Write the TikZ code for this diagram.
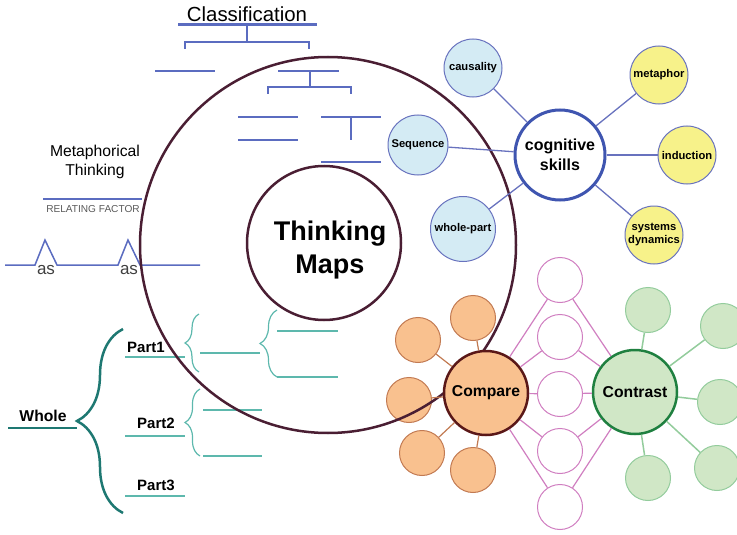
\documentclass[tikz,border=0pt]{standalone}
\usepackage{fontspec}
\setmainfont{Liberation Sans}
\usetikzlibrary{positioning}
\usetikzlibrary{decorations.pathreplacing}

\definecolor{treeblue}{HTML}{5B6CC0}
\definecolor{mapred}{HTML}{4A1E33}
\definecolor{skillblue}{HTML}{3F55B0}
\definecolor{skillline}{HTML}{6872BE}
\definecolor{paleblue}{HTML}{D4EBF4}
\definecolor{paleyellow}{HTML}{F7F28A}
\definecolor{orangefill}{HTML}{F9C18F}
\definecolor{orangeline}{HTML}{C27A52}
\definecolor{cmpborder}{HTML}{5A1818}
\definecolor{greenfill}{HTML}{D0E7C6}
\definecolor{greenline}{HTML}{93CC9C}
\definecolor{ctrborder}{HTML}{1F8040}
\definecolor{pinkline}{HTML}{D07EC0}
\definecolor{darkteal}{HTML}{1E7872}
\definecolor{lightteal}{HTML}{5DB8AD}

\tikzset{
  tree/.style={treeblue,line width=1.5pt},
  skill/.style={circle,draw=skillline,line width=1pt,inner sep=0pt,minimum size=58pt,align=center,font=\bfseries\fontsize{11.2}{13}\selectfont},
  cold/.style={skill,fill=paleblue},
  warm/.style={skill,fill=paleyellow},
  leaf/.style={circle,inner sep=0pt,minimum size=45pt,line width=1pt},
  same/.style={leaf,draw=orangeline,fill=orangefill},
  diff/.style={leaf,draw=greenline,fill=greenfill},
  bridge/.style={leaf,draw=pinkline},
  hub/.style={circle,inner sep=0pt,minimum size=84pt,line width=2.5pt,font=\bfseries\fontsize{15.7}{18}\selectfont},
  part/.style={inner sep=0pt,font=\bfseries\fontsize{15}{15}\selectfont},
  thin brace/.style={lightteal,line width=1.2pt,decorate,decoration={brace,amplitude=#1}}
}

\begin{document}
\begin{tikzpicture}[x=1pt,y=-1pt]
\useasboundingbox (0,0) rectangle (737,535);

\draw[treeblue,line width=3pt] (178,25) -- (317,25);
\coordinate (c) at (247,25);
\node[above=3pt of c,anchor=base,inner sep=0pt,font=\fontsize{20.4}{20.4}\selectfont] (class) {Classification};
\draw[tree] (c) -- (247,42);
\draw[tree] (185,49) -- (185,42) -- (309,42) -- (309,49);
\draw[tree] (155,71) -- (215,71);
\draw[tree] (278,71) -- (339,71);
\draw[tree] (310,71) -- (310,87);
\draw[tree] (268,94) -- (268,87) -- (351,87) -- (351,94);
\draw[tree] (238,117) -- (298,117);
\draw[tree] (238,140) -- (298,140);
\draw[tree] (321,117) -- (381,117);
\draw[tree] (351,117) -- (351,140);
\draw[tree] (321,162) -- (381,162);

\node[align=center,inner sep=0pt,font=\fontsize{15.7}{19}\selectfont] (meta) at (95,162) {Metaphorical\\Thinking};
\draw[tree] (43,199) -- (142,199);
\coordinate (rf) at (93,199);
\node[below=6pt of rf,inner sep=0pt,text=black!65,font=\fontsize{10.1}{10.1}\selectfont] (relate) {RELATING FACTOR};
\draw[tree] (5,265) -- (35,265) -- (45,240) -- (57,265) -- (118,265) -- (128,240) -- (140,265) -- (200,265);
\node[text=black!75,font=\fontsize{17}{17}\selectfont] (as1) at (46,270) {as};
\node[text=black!75,font=\fontsize{17}{17}\selectfont] (as2) at (129,270) {as};

\draw[darkteal,line width=2.5pt] (8,428) -- (77,428);
\coordinate (w) at (43,428);
\node[above=7pt of w,anchor=base,part,font=\bfseries\fontsize{15.7}{15.7}\selectfont] (whole) {Whole};
\draw[darkteal,line width=2.5pt,decorate,decoration={brace,amplitude=46pt}] (123,513) -- (123,329);
\draw[lightteal,line width=1.5pt] (125,357) -- (185,357);
\draw[lightteal,line width=1.5pt] (125,436) -- (185,436);
\draw[lightteal,line width=1.5pt] (125,496) -- (185,496);
\coordinate (p1) at (146,357);
\coordinate (p2) at (156,436);
\coordinate (p3) at (156,496);
\node[above=5pt of p1,anchor=base,part] (part1) {Part1};
\node[above=8pt of p2,anchor=base,part] (part2) {Part2};
\node[above=6pt of p3,anchor=base,part] (part3) {Part3};
\draw[thin brace=14pt] (199,372) -- (199,314);
\draw[lightteal,line width=1.5pt] (200,353) -- (260,353);
\draw[thin brace=17pt] (277,377) -- (277,310);
\draw[lightteal,line width=1.5pt] (277,331) -- (338,331);
\draw[lightteal,line width=1.5pt] (277,377) -- (338,377);
\draw[thin brace=15pt] (200,456) -- (200,389);
\draw[lightteal,line width=1.5pt] (203,410) -- (262,410);
\draw[lightteal,line width=1.5pt] (203,456) -- (262,456);

\node[same] (o1) at (473,318) {};
\node[same] (o2) at (418,340) {};
\node[same] (o3) at (409,400) {};
\node[same] (o4) at (422,453) {};
\node[same] (o5) at (473,470) {};

\node[circle,draw=mapred,line width=2.5pt,minimum size=376pt] (outer) at (328,245) {};
\node[circle,draw=mapred,line width=2.5pt,minimum size=154pt] (maps) at (324,243) {};
\node[align=center,inner sep=0pt,font=\bfseries\fontsize{27}{33}\selectfont] (mapstext) at (330,250) {Thinking\\Maps};

\node[circle,draw=skillblue,line width=3pt,fill=white,minimum size=90pt,inner sep=0pt,align=center,font=\bfseries\fontsize{16}{20}\selectfont] (cog) at (560,155) {cognitive\\skills};
\node[cold] (caus) at (473,68) {causality};
\node[cold,minimum size=60pt] (seq) at (418,145) {Sequence};
\node[cold,minimum size=65pt] (wp) at (463,229) {whole-part};
\node[warm] (metaph) at (659,75) {metaphor};
\node[warm] (ind) at (687,155) {induction};
\node[warm] (sys) at (654,235) {systems\\dynamics};
\draw[skillline,line width=1.3pt] (cog) -- (caus);
\draw[skillline,line width=1.3pt] (cog) -- (seq);
\draw[skillline,line width=1.3pt] (cog) -- (wp);
\draw[skillline,line width=1.3pt] (cog) -- (metaph);
\draw[skillline,line width=1.3pt] (cog) -- (ind);
\draw[skillline,line width=1.3pt] (cog) -- (sys);

\node[hub,draw=cmpborder,fill=orangefill] (cmp) at (486,393) {Compare};
\node[hub,draw=ctrborder,fill=greenfill] (ctr) at (635,392) {Contrast};
\node[bridge] (b1) at (560,280) {};
\node[bridge] (b2) at (560,337) {};
\node[bridge] (b3) at (560,394) {};
\node[bridge] (b4) at (560,451) {};
\node[bridge] (b5) at (560,507) {};
\node[diff] (g1) at (648,310) {};
\node[diff] (g2) at (723,326) {};
\node[diff] (g3) at (720,402) {};
\node[diff] (g4) at (717,468) {};
\node[diff] (g5) at (648,478) {};

\draw[orangeline,line width=1.2pt] (cmp) -- (o1);
\draw[orangeline,line width=1.2pt] (cmp) -- (o2);
\draw[orangeline,line width=1.2pt] (cmp) -- (o3);
\draw[orangeline,line width=1.2pt] (cmp) -- (o4);
\draw[orangeline,line width=1.2pt] (cmp) -- (o5);
\draw[pinkline,line width=1.2pt] (cmp) -- (b1) -- (ctr);
\draw[pinkline,line width=1.2pt] (cmp) -- (b2) -- (ctr);
\draw[pinkline,line width=1.2pt] (cmp) -- (b3) -- (ctr);
\draw[pinkline,line width=1.2pt] (cmp) -- (b4) -- (ctr);
\draw[pinkline,line width=1.2pt] (cmp) -- (b5) -- (ctr);
\draw[greenline,line width=1.5pt] (ctr) -- (g1);
\draw[greenline,line width=1.5pt] (ctr) -- (g2);
\draw[greenline,line width=1.5pt] (ctr) -- (g3);
\draw[greenline,line width=1.5pt] (ctr) -- (g4);
\draw[greenline,line width=1.5pt] (ctr) -- (g5);

\end{tikzpicture}
\end{document}
